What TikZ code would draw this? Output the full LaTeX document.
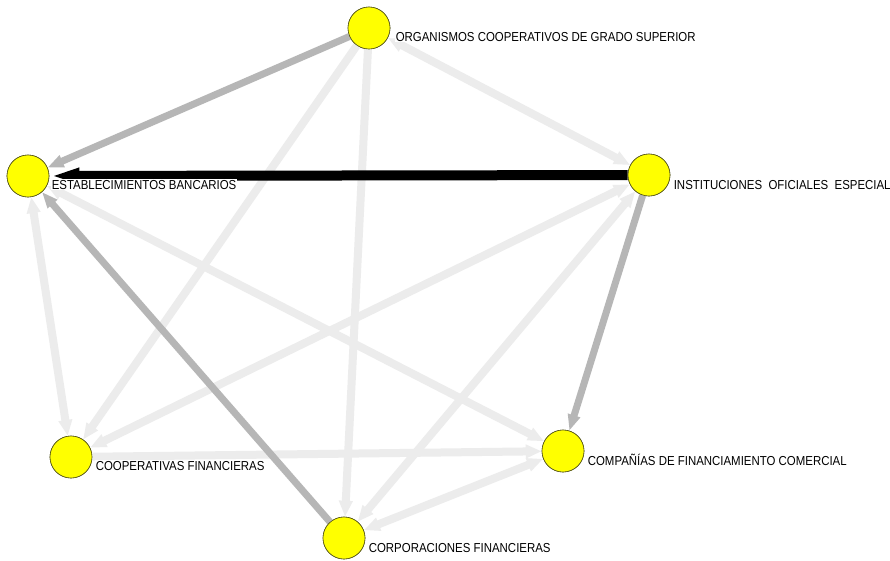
\documentclass[tikz,border=0pt]{standalone}
\usepackage{fontspec}
\newfontfamily\labfont{Liberation Sans}[FakeStretch=0.88]
\usetikzlibrary{arrows.meta}
\definecolor{edgelight}{RGB}{236,236,236}
\definecolor{edgemid}{RGB}{182,182,182}
\definecolor{nodeyel}{RGB}{255,255,0}
\definecolor{nodeedge}{RGB}{80,80,30}
\begin{document}
\begin{tikzpicture}[x=1pt,y=-1pt,
  actor/.style={circle, fill=nodeyel, draw=nodeedge, line width=0.6pt, minimum size=42pt, inner sep=0pt},
  lab/.style={anchor=base west, font=\labfont\fontsize{13}{13}\selectfont, fill=white, inner sep=0.6pt},
  lightfwd/.style={draw=edgelight, line width=8pt, -{Triangle[width=13pt,length=16pt]}},
  lightboth/.style={draw=edgelight, line width=8pt, {Triangle[width=13pt,length=16pt]}-{Triangle[width=13pt,length=16pt]}},
  midfwd/.style={draw=edgemid, line width=7pt, -{Triangle[width=12pt,length=16pt]}},
  strongfwd/.style={draw=black, line width=10pt, -{Triangle[width=14pt,length=30pt]}}
]
\useasboundingbox (0,0) rectangle (890,560);
\fill[white] (0,0) rectangle (890,560);

\node[actor] (org)  at (369,28) {};
\node[actor] (est)  at (28,176) {};
\node[actor] (inst) at (649,175) {};
\node[actor] (coop) at (71,457) {};
\node[actor] (comp) at (563,451) {};
\node[actor] (corp) at (344,538) {};

% light edges
\draw[lightboth] (org) -- (inst);
\draw[lightfwd] (org) -- (coop);
\draw[lightfwd] (org) -- (corp);
\draw[lightboth] (est) -- (coop);
\draw[lightboth] (est) -- (comp);
\draw[lightboth] (inst) -- (coop);
\draw[lightboth] (inst) -- (corp);
\draw[lightfwd] (coop) -- (comp);
\draw[lightboth] (comp) -- (corp);
% medium edges
\draw[midfwd] (org) -- (est);
\draw[midfwd] (inst) -- (comp);
\draw[midfwd] (corp) -- (est);
% strong edge
\draw[strongfwd] (inst) -- (est);

% redraw nodes on top
\node[actor] at (org) {};
\node[actor] at (est) {};
\node[actor] at (inst) {};
\node[actor] at (coop) {};
\node[actor] at (comp) {};
\node[actor] at (corp) {};

\node[lab] (lorg)  at (395,41)  {ORGANISMOS COOPERATIVOS DE GRADO SUPERIOR};
\node[lab] (lest)  at (51,189)  {ESTABLECIMIENTOS BANCARIOS};
\node[lab] (linst) at (673,189) {INSTITUCIONES\ \ OFICIALES\ \ ESPECIAL};
\node[lab] (lcoop) at (95,470)  {COOPERATIVAS FINANCIERAS};
\node[lab] (lcomp) at (587,465) {COMPAÑÍAS DE FINANCIAMIENTO COMERCIAL};
\node[lab] (lcorp) at (368,552) {CORPORACIONES FINANCIERAS};
\end{tikzpicture}
\end{document}
